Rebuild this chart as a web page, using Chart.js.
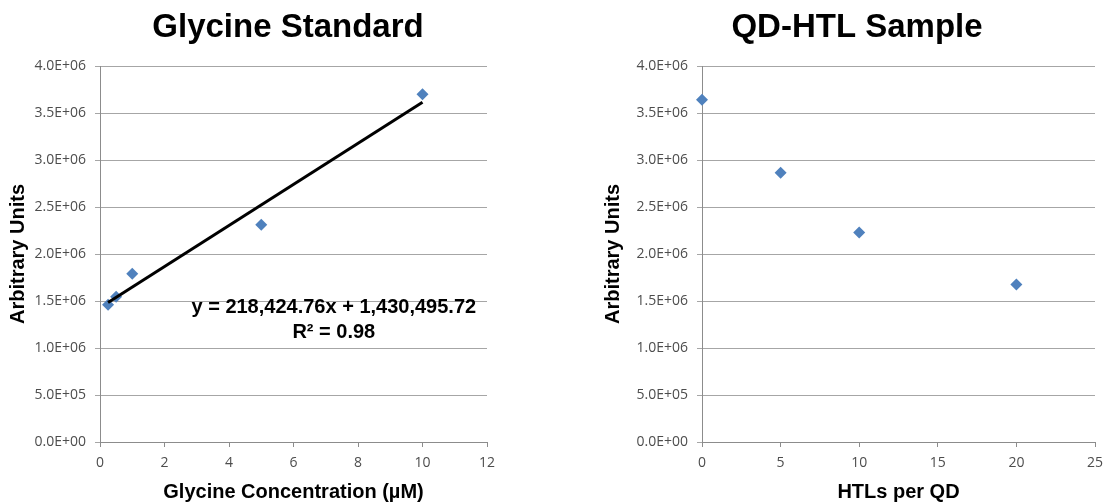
<!DOCTYPE html>
<html lang="en">
<head>
    <meta charset="UTF-8">
    <title>Glycine Standard / QD-HTL Sample</title>
    <script src="https://cdn.jsdelivr.net/npm/chart.js"></script>
    <style>
        body {
            margin: 0;
            padding: 0;
            background: white;
            overflow: hidden;
        }
        .panel {
            position: absolute;
            top: 0;
            height: 504px;
        }
        #leftPanel { left: 0; width: 557px; }
        #rightPanel { left: 557px; width: 558px; }
    </style>
</head>
<body>

    <div class="panel" id="leftPanel"><canvas id="glycineChart"></canvas></div>
    <div class="panel" id="rightPanel"><canvas id="sampleChart"></canvas></div>

    <script>
        // Glycine standard curve
        const glycineConc = [0.25, 0.5, 1, 5, 10];
        const glycineSignal = [1.46e6, 1.545e6, 1.79e6, 2.31e6, 3.70e6];
        // trendline as printed on the chart
        const fitSlope = 218424.76;
        const fitIntercept = 1430495.72;
        const fitLabel = ["y = 218,424.76x + 1,430,495.72", "R\u00b2 = 0.98"];

        // QD-HTL sample
        const htlPerQd = [0, 5, 10, 20];
        const sampleSignal = [3.64e6, 2.865e6, 2.23e6, 1.675e6];

        const pointColor = "#4F81BD";
        const gridColor = "#a6a6a6";
        const axisColor = "#8c8c8c";
        const tickFont = { family: "'Open Sans', sans-serif", size: 14 };

        function sciLabel(v) {
            const parts = Number(v).toExponential(1).split("e");
            const sign = parts[1][0];
            const exp = parts[1].slice(1).padStart(2, "0");
            return parts[0] + "E" + sign + exp;
        }

        // draws the big chart title at a given x centre
        const headlinePlugin = {
            id: "headline",
            afterDraw(chart, args, opts) {
                const ctx = chart.ctx;
                ctx.save();
                ctx.font = "bold 33px 'Liberation Sans', Arial, sans-serif";
                ctx.fillStyle = "#000";
                ctx.textAlign = "center";
                ctx.textBaseline = "alphabetic";
                ctx.fillText(opts.text, opts.x, opts.y);
                ctx.restore();
            }
        };

        // trendline equation text, placed in data units
        const equationPlugin = {
            id: "equation",
            afterDatasetsDraw(chart, args, opts) {
                if (!opts.lines) return;
                const ctx = chart.ctx;
                const px = chart.scales.x.getPixelForValue(opts.x);
                const py = chart.scales.y.getPixelForValue(opts.y);
                ctx.save();
                ctx.font = "bold 20px 'Liberation Sans', Arial, sans-serif";
                ctx.fillStyle = "#000";
                ctx.textAlign = "center";
                ctx.textBaseline = "middle";
                opts.lines.forEach((line, i) => ctx.fillText(line, px, py + i * 25));
                ctx.restore();
            }
        };

        function axes(xMax, xStep, xTitle, yWidth, yTitlePad) {
            return {
                x: {
                    type: "linear",
                    min: 0,
                    max: xMax,
                    afterFit: (s) => { s.height = 62; },
                    ticks: {
                        stepSize: xStep,
                        padding: 8,
                        color: "#4d4d4d",
                        font: tickFont
                    },
                    grid: {
                        drawOnChartArea: false,
                        tickLength: 5,
                        color: axisColor
                    },
                    border: { color: axisColor },
                    title: {
                        display: true,
                        text: xTitle,
                        color: "#000",
                        padding: { top: 0, bottom: 0 },
                        font: { family: "'Liberation Sans', Arial, sans-serif", size: 20, weight: "bold" }
                    }
                },
                y: {
                    min: 0,
                    max: 4e6,
                    afterFit: (s) => { s.width = yWidth; },
                    ticks: {
                        stepSize: 5e5,
                        padding: 9,
                        color: "#4d4d4d",
                        font: tickFont,
                        callback: (v) => sciLabel(v)
                    },
                    grid: {
                        color: gridColor,
                        tickLength: 5
                    },
                    border: { color: axisColor },
                    title: {
                        display: true,
                        text: "Arbitrary Units",
                        color: "#000",
                        padding: { top: yTitlePad, bottom: 0 },
                        font: { family: "'Liberation Sans', Arial, sans-serif", size: 20, weight: "bold" }
                    }
                }
            };
        }

        const pointStyle = {
            backgroundColor: pointColor,
            borderColor: pointColor,
            borderWidth: 0,
            pointStyle: "rectRot",
            pointRadius: 6,
            pointHoverRadius: 6,
            clip: false
        };

        const firstX = glycineConc[0];
        const lastX = glycineConc[glycineConc.length - 1];

        new Chart(document.getElementById("glycineChart"), {
            type: "scatter",
            data: {
                datasets: [
                    {
                        type: "line",
                        label: "Linear fit",
                        data: [
                            { x: firstX, y: fitSlope * firstX + fitIntercept },
                            { x: lastX, y: fitSlope * lastX + fitIntercept }
                        ],
                        borderColor: "#000",
                        borderWidth: 3,
                        pointRadius: 0,
                        fill: false,
                        order: 0
                    },
                    Object.assign({
                        label: "Glycine",
                        data: glycineConc.map((x, i) => ({ x: x, y: glycineSignal[i] })),
                        order: 1
                    }, pointStyle)
                ]
            },
            options: {
                responsive: true,
                maintainAspectRatio: false,
                animation: false,
                layout: { padding: { left: 0, right: 70, top: 66, bottom: 0 } },
                scales: axes(12, 2, "Glycine Concentration (\u00b5M)", 100, 6),
                plugins: {
                    legend: { display: false },
                    tooltip: { enabled: false },
                    headline: { text: "Glycine Standard", x: 288, y: 37 },
                    equation: { lines: fitLabel, x: 7.25, y: 1.43e6 }
                }
            },
            plugins: [headlinePlugin, equationPlugin]
        });

        new Chart(document.getElementById("sampleChart"), {
            type: "scatter",
            data: {
                datasets: [
                    Object.assign({
                        label: "QD-HTL",
                        data: htlPerQd.map((x, i) => ({ x: x, y: sampleSignal[i] }))
                    }, pointStyle)
                ]
            },
            options: {
                responsive: true,
                maintainAspectRatio: false,
                animation: false,
                layout: { padding: { left: 0, right: 20, top: 66, bottom: 0 } },
                scales: axes(25, 5, "HTLs per QD", 145, 44),
                plugins: {
                    legend: { display: false },
                    tooltip: { enabled: false },
                    headline: { text: "QD-HTL Sample", x: 300, y: 37 },
                    equation: {}
                }
            },
            plugins: [headlinePlugin, equationPlugin]
        });
    </script>

</body>
</html>
